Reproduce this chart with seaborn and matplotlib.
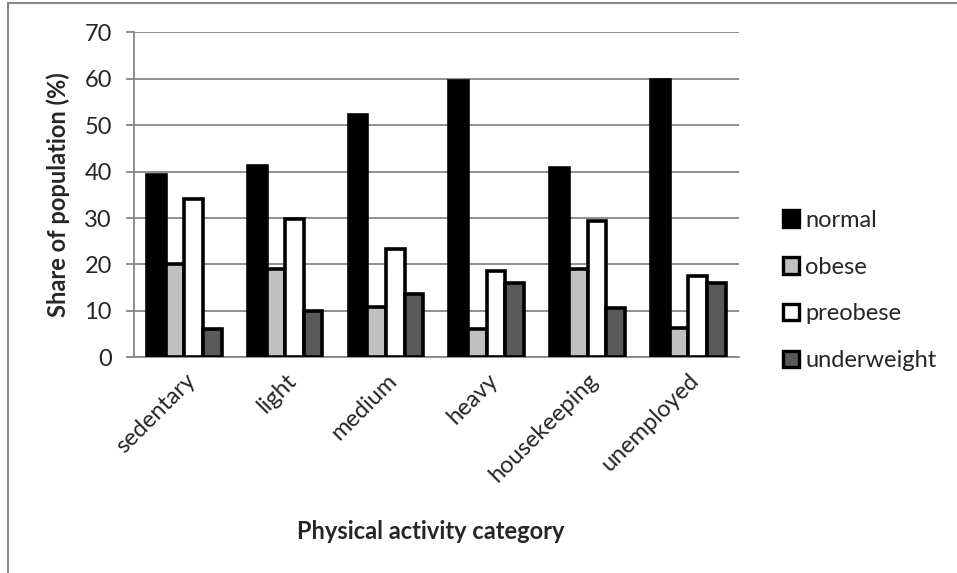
import pandas as pd
import matplotlib
matplotlib.use("Agg")
import matplotlib.pyplot as plt
import seaborn as sns
from matplotlib.patches import Rectangle

# --- chart data ---
categories = ["sedentary", "light", "medium", "heavy", "housekeeping", "unemployed"]
series = ["normal", "obese", "preobese", "underweight"]
normal = [39.3, 41.2, 52.1, 59.5, 40.7, 59.8]
obese = [20.1, 19.0, 10.8, 6.0, 19.1, 6.4]
preobese = [34.2, 29.8, 23.4, 18.6, 29.4, 17.5]
underweight = [6.1, 9.9, 13.6, 15.9, 10.6, 16.0]
colors = ["#000000", "#c0c0c0", "#ffffff", "#595959"]
y_ticks = [0, 10, 20, 30, 40, 50, 60, 70]

rows = []
for name, vals in zip(series, [normal, obese, preobese, underweight]):
    for cat, v in zip(categories, vals):
        rows.append({"category": cat, "series": name, "value": v})
df = pd.DataFrame(rows)

sns.set_style("white")
plt.rcParams["font.family"] = ["Lato", "DejaVu Sans"]
FS = 17

fig = plt.figure(figsize=(9.57, 5.73), dpi=100)
ax = fig.add_axes([0.140, 0.3765, 0.632, 0.567])

sns.barplot(data=df, x="category", y="value", hue="series",
            order=categories, hue_order=series, palette=colors,
            width=0.74, edgecolor="black", linewidth=2.6, ax=ax,
            legend=False, zorder=3)

grid_col = "#878787"
ax.set_ylim(0, 70)
ax.set_yticks(y_ticks)
ax.yaxis.grid(True, color=grid_col, linewidth=1.3, zorder=0)
ax.set_axisbelow(True)
for side in ["top", "right"]:
    ax.spines[side].set_visible(False)
ax.spines["left"].set_color(grid_col)
ax.spines["bottom"].set_color(grid_col)
ax.spines["left"].set_linewidth(1.3)
ax.spines["bottom"].set_linewidth(1.3)
ax.tick_params(axis="y", which="major", length=6, width=1.3, color=grid_col,
               labelsize=FS, pad=10, left=True)
ax.tick_params(axis="x", length=0, labelsize=FS, pad=9)
plt.setp(ax.get_xticklabels(), rotation=45, ha="right", rotation_mode="anchor")

ax.set_xlabel("Physical activity category", fontsize=FS, fontweight="bold")
ax.set_ylabel("Share of population (%)", fontsize=FS, fontweight="bold", labelpad=10)
ax.xaxis.set_label_coords(0.49, -0.50)

handles = [Rectangle((0, 0), 1, 1, facecolor=c, edgecolor="black", linewidth=2.4)
           for c in colors]
fig.legend(handles, series, loc="center left", bbox_to_anchor=(0.808, 0.493),
           frameon=False, fontsize=FS, handlelength=0.7, handleheight=0.7,
           handletextpad=0.25, labelspacing=1.1, borderaxespad=0)

# partial outer chart frame (cropped screenshot)
fig.patches.append(Rectangle((8 / 957, -0.2), 1.2, 1.2 - 3 / 573,
                             transform=fig.transFigure, fill=False,
                             edgecolor=grid_col, linewidth=1.5))

fig.savefig("out.png", dpi=100)
